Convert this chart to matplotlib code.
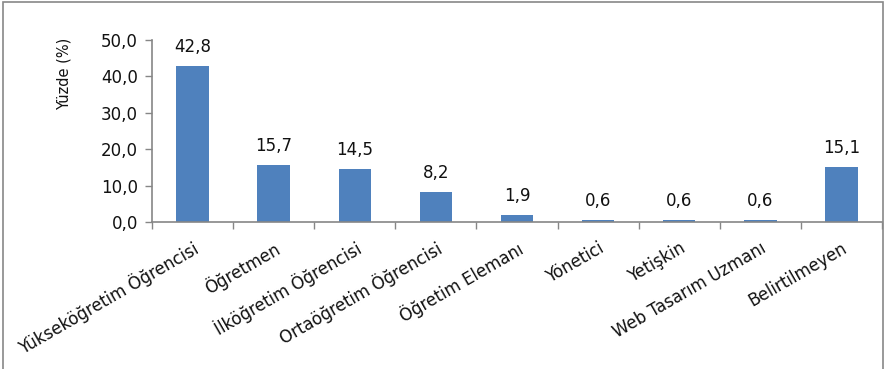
import matplotlib
matplotlib.use("Agg")
import matplotlib.pyplot as plt
from matplotlib.patches import Rectangle

categories = ["Yükseköğretim Öğrencisi", "Öğretmen", "İlköğretim Öğrencisi",
              "Ortaöğretim Öğrencisi", "Öğretim Elemanı", "Yönetici", "Yetişkin",
              "Web Tasarım Uzmanı", "Belirtilmeyen"]
values = [42.8, 15.7, 14.5, 8.2, 1.9, 0.6, 0.6, 0.6, 15.1]
yticks = [0, 10, 20, 30, 40, 50]

W, H = 886, 369
fig = plt.figure(figsize=(W/100, H/100), dpi=100)
fig.patches.append(Rectangle((3/W, -0.1), 880/W, 1.1 - 2/H, transform=fig.transFigure,
                             fill=False, edgecolor="#888888", linewidth=1.2))
ax = fig.add_axes([152/W, 1-222/H, 730/W, 182/H])
x = list(range(len(categories)))
ax.bar(x, values, width=0.4, color="#4F81BD")
ax.set_xlim(-0.5, len(categories)-0.5)
ax.set_ylim(0, 50)
ax.set_yticks(yticks)
ax.set_yticklabels([f"{v:.1f}".replace(".", ",") for v in yticks], fontsize=12, color="#111111")
ax.set_xticks([i-0.5 for i in range(len(categories)+1)], minor=False)
ax.set_xticklabels([])
ax.tick_params(axis="x", length=5, color="#868686", width=1)
ax.tick_params(axis="y", length=5, color="#868686", width=1, pad=5)
for s in ["top", "right"]:
    ax.spines[s].set_visible(False)
for s in ["left", "bottom"]:
    ax.spines[s].set_color("#868686")
    ax.spines[s].set_linewidth(1.2)
for i, (c, v) in enumerate(zip(categories, values)):
    ax.annotate(f"{v:.1f}".replace(".", ","), (i, v), xytext=(0, 7), textcoords="offset points",
                ha="center", va="bottom", fontsize=12, color="#111111")
    ax.annotate(c, (i, 0), xytext=(0, -12), textcoords="offset points", ha="right", va="top",
                rotation=30, rotation_mode="anchor", fontsize=12, color="#111111")
ax.set_ylabel("Yüzde (%)", fontsize=10.5, labelpad=8, color="#111111")
ax.yaxis.set_label_coords(64/W, 1-74/H, transform=fig.transFigure)
ax.yaxis.label.set_va("center")
fig.savefig("out.png", dpi=100)
